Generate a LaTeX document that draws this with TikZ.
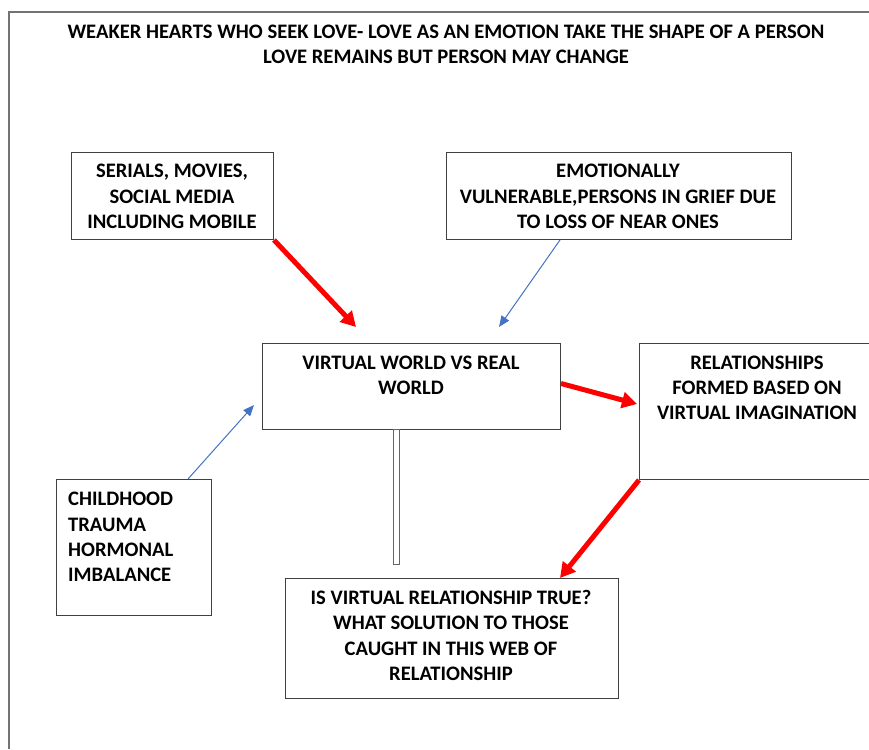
\documentclass[tikz,border=0pt]{standalone}
\usepackage{fontspec}
\setmainfont{Carlito}
\usetikzlibrary{arrows.meta,calc}
\definecolor{officeblue}{RGB}{68,114,196}
\definecolor{boxgray}{RGB}{64,64,64}
\tikzset{
  box/.style={draw=boxgray,line width=1pt,rectangle,inner sep=0pt,anchor=north west},
  txt/.style={align=center,inner sep=0pt,font=\fontsize{20.6}{25.3}\selectfont\bfseries},
  txtl/.style={align=left,inner sep=0pt,font=\fontsize{20.6}{25.3}\selectfont\bfseries},
  redarrow/.style={draw=red,line width=5pt,-{Triangle[length=15pt,width=16pt]}},
  bluearrow/.style={draw=officeblue,line width=1pt,-{Triangle[length=11pt,width=9pt]}},
  frame/.style={draw=gray!90!black,line width=1.2pt}
}
\begin{document}
\begin{tikzpicture}[x=1pt,y=-1pt]
\useasboundingbox (0,0) rectangle (869,749);
% frame
\draw[frame] (9,749) -- (9,12) -- (875,12);
% title
\node[txt] (title) at (446,44.5) {WEAKER HEARTS WHO SEEK LOVE- LOVE AS AN EMOTION TAKE THE SHAPE OF A PERSON\\LOVE REMAINS BUT PERSON MAY CHANGE};
% boxes
\node[box,minimum width=202pt,minimum height=87pt] (serials) at (71,152) {};
\node[txt] (serialst) at (172,196.5) {SERIALS, MOVIES,\\SOCIAL MEDIA\\INCLUDING MOBILE};
\node[box,minimum width=345pt,minimum height=87pt] (emo) at (446,152) {};
\node[txt] (emot) at (618,196.5) {EMOTIONALLY\\VULNERABLE,PERSONS IN GRIEF DUE\\TO LOSS OF NEAR ONES};
\node[box,minimum width=298pt,minimum height=86pt] (virt) at (262,343) {};
\node[txt] (virtt) at (411,375.5) {VIRTUAL WORLD VS REAL\\WORLD};
\node[box,minimum width=240pt,minimum height=136pt] (rel) at (639,343) {};
\node[txt] (relt) at (757,388) {RELATIONSHIPS\\FORMED BASED ON\\VIRTUAL IMAGINATION};
\node[box,minimum width=155pt,minimum height=136pt] (child) at (56,479) {};
\node[txtl,anchor=west] (childt) at (68,537) {CHILDHOOD\\TRAUMA\\HORMONAL\\IMBALANCE};
\node[box,minimum width=333pt,minimum height=120pt] (bottom) at (285,578) {};
\node[txt] (bottomt) at (451,635.5) {IS VIRTUAL RELATIONSHIP TRUE?\\WHAT SOLUTION TO THOSE\\CAUGHT IN THIS WEB OF\\RELATIONSHIP};
% thin bar
\node[draw=gray!80!black,line width=0.8pt,rectangle,inner sep=0pt,minimum width=6pt,minimum height=135pt,anchor=north] (bar) at (396,429) {};
% connectors
\coordinate (e1) at (356,327);
\coordinate (e2) at (499,327);
\coordinate (e3) at (637,404);
\coordinate (e5) at (254,405);
\draw[redarrow] (serials.south east) -- (e1);
\draw[bluearrow] ($(emo.south west)+(114,0)$) -- (e2);
\draw[redarrow] ($(virt.east)+(0,-3)$) -- (e3);
\draw[redarrow] (rel.south west) -- ($(bottom.north west)+(275,0)$);
\draw[bluearrow] ($(child.north west)+(132,0)$) -- (e5);
\end{tikzpicture}
\end{document}
